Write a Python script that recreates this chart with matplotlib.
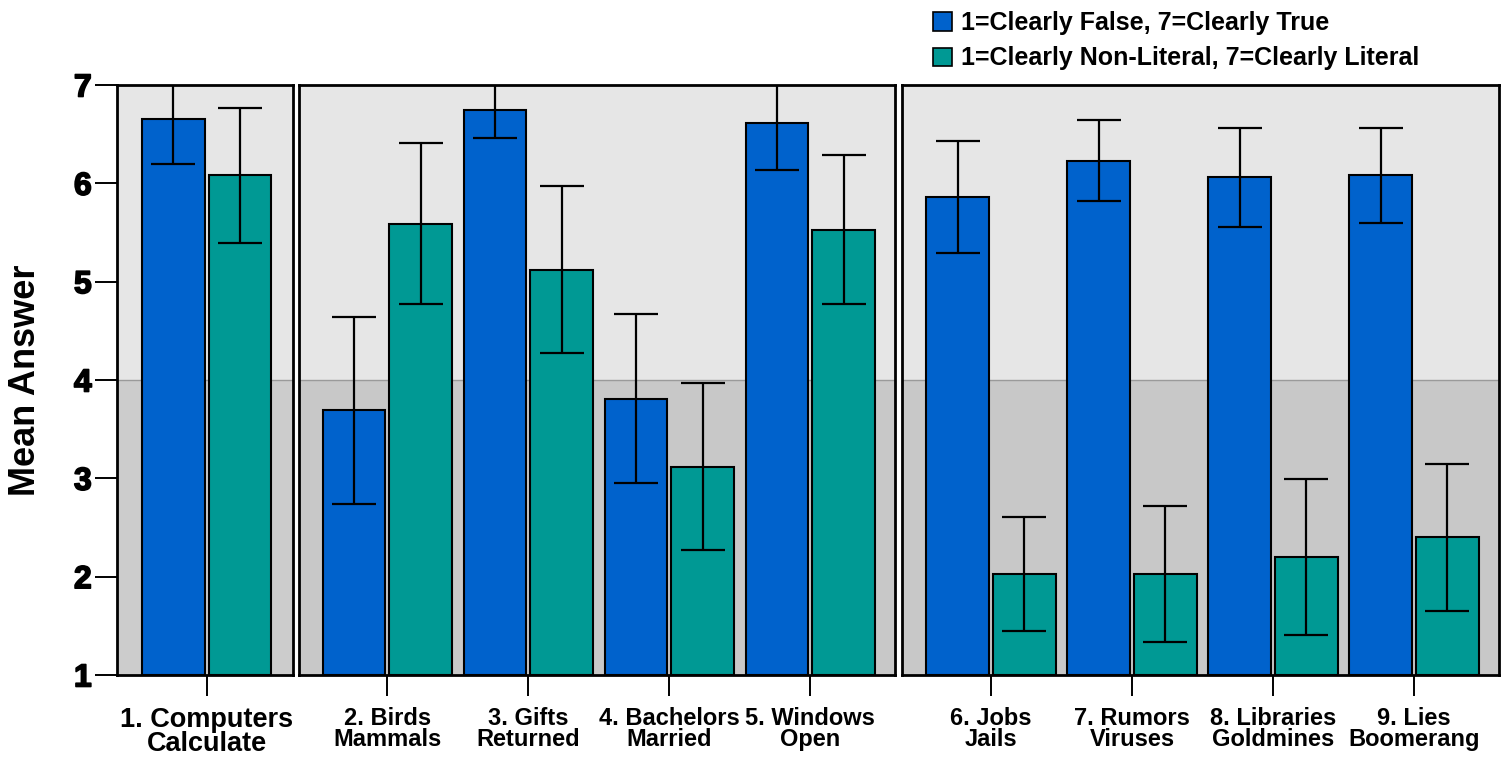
import matplotlib.pyplot as plt
import matplotlib.patheffects as pe
from matplotlib.patches import Patch

plt.rcParams['font.family'] = ['Liberation Sans', 'DejaVu Sans']
plt.rcParams['font.weight'] = 'bold'

# three groups of items, one panel each
labels = [["1. Computers\nCalculate"],
          ["2. Birds\nMammals", "3. Gifts\nReturned", "4. Bachelors\nMarried", "5. Windows\nOpen"],
          ["6. Jobs\nJails", "7. Rumors\nViruses", "8. Libraries\nGoldmines", "9. Lies\nBoomerang"]]
truth_mean = [[6.65], [3.69, 6.75, 3.81, 6.61], [5.86, 6.23, 6.06, 6.08]]
truth_err = [[0.45], [0.95, 0.29, 0.86, 0.47], [0.57, 0.41, 0.50, 0.48]]
literal_mean = [[6.08], [5.59, 5.12, 3.12, 5.53], [2.03, 2.03, 2.20, 2.40]]
literal_err = [[0.69], [0.82, 0.85, 0.85, 0.76], [0.58, 0.69, 0.79, 0.75]]

series_names = ["1=Clearly False, 7=Clearly True",
                "1=Clearly Non-Literal, 7=Clearly Literal"]
blue = '#0062cc'
teal = '#009994'

W, H = 1507, 759
fig = plt.figure(figsize=(W / 100, H / 100), dpi=100)

# panel frames in pixels: left, right, first group center
panels = [(116.7, 293.3, 206.7), (299.3, 895.0, 387.3), (902.0, 1499.0, 991.0)]
unit = 141.0
top_px, bot_px = 85.0, 675.0
off, bw = 0.236, 0.443

for i, (l, r, c0) in enumerate(panels):
    ax = fig.add_axes([l / W, (H - bot_px) / H, (r - l) / W, (bot_px - top_px) / H])
    ax.set_xlim((l - c0) / unit, (r - c0) / unit)
    ax.set_ylim(1, 7)
    ax.axhspan(4, 7, color='#e6e6e6', zorder=0, lw=0)
    ax.axhspan(1, 4, color='#cccccc' if i == 0 else '#c8c8c8', zorder=0, lw=0)
    ax.axhline(4, color='#9a9a9a', lw=1.0, zorder=0.5)

    x = list(range(len(labels[i])))
    ekw = dict(ecolor='black', elinewidth=1.6, capsize=15.5, capthick=1.6)
    ax.bar([v - off for v in x], [m - 1 for m in truth_mean[i]], bottom=1,
           width=bw, color=blue, edgecolor='black', linewidth=1.5,
           yerr=truth_err[i], error_kw=ekw, zorder=2)
    ax.bar([v + off for v in x], [m - 1 for m in literal_mean[i]], bottom=1,
           width=bw, color=teal, edgecolor='black', linewidth=1.5,
           yerr=literal_err[i], error_kw=ekw, zorder=2)

    for s in ax.spines.values():
        s.set_linewidth(2.0)
        s.set_zorder(5)
    ax.set_xticks(x)
    fs = 19.5 if i == 0 else 17
    ax.set_xticklabels(labels[i], fontsize=fs, fontweight='bold', linespacing=0.9)
    ax.tick_params(axis='x', length=15, width=1.4, pad=8)
    if i == 0:
        ax.set_yticks(range(1, 8))
        ax.tick_params(axis='y', length=16, width=1.4, labelsize=23, pad=2)
        for t in ax.get_yticklabels():
            t.set_fontweight('bold')
            t.set_path_effects([pe.withStroke(linewidth=1.2, foreground='black')])
        ax.set_ylabel("Mean Answer", fontsize=26, fontweight='bold', labelpad=22)
    else:
        ax.set_yticks([])

handles = [Patch(facecolor=blue, edgecolor='black', lw=1.2),
           Patch(facecolor=teal, edgecolor='black', lw=1.2)]
fig.legend(handles, series_names, loc='upper left', bbox_to_anchor=(922 / W, 1.0),
           frameon=False, prop={'weight': 'bold', 'size': 18},
           handlelength=0.75, handleheight=0.75, handletextpad=0.35, labelspacing=0.45,
           borderaxespad=0.05)

fig.savefig('out.png', dpi=100)
